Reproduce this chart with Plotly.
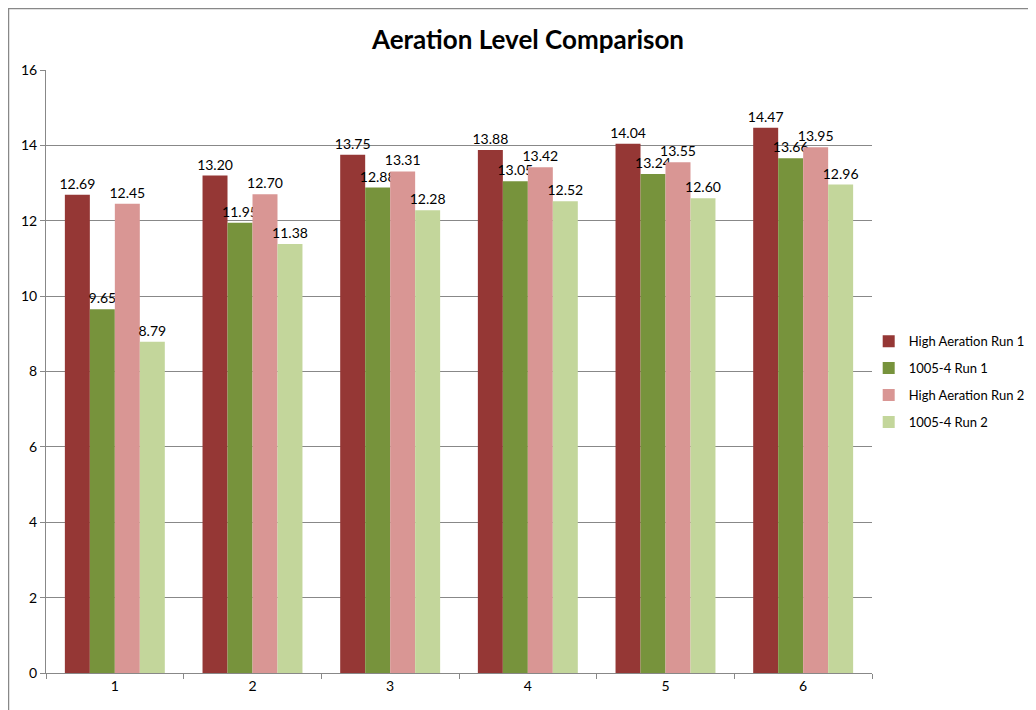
import plotly.graph_objects as go

categories = ["1", "2", "3", "4", "5", "6"]
high_run1 = [12.69, 13.20, 13.75, 13.88, 14.04, 14.47]
s1005_run1 = [9.65, 11.95, 12.88, 13.05, 13.24, 13.66]
high_run2 = [12.45, 12.70, 13.31, 13.42, 13.55, 13.95]
s1005_run2 = [8.79, 11.38, 12.28, 12.52, 12.60, 12.96]

series = [
    ("High Aeration Run 1", high_run1, "#953735"),
    ("1005-4 Run 1", s1005_run1, "#77933C"),
    ("High Aeration Run 2", high_run2, "#D99694"),
    ("1005-4 Run 2", s1005_run2, "#C3D69B"),
]

FONT = "Lato, 'Liberation Sans', sans-serif"

fig = go.Figure()
for i, (name, vals, color) in enumerate(series):
    fig.add_trace(go.Bar(
        x=categories, y=vals, name=name, legendgroup=f"g{i}",
        marker=dict(color=color, line=dict(width=0)),
        text=[f"{v:.2f}" for v in vals],
        textposition="outside",
        textfont=dict(size=14, color="#000000", family=FONT),
        cliponaxis=False,
    ))

fig.update_layout(
    width=1028, height=702,
    barmode="group", bargap=0.274, bargroupgap=0,
    plot_bgcolor="white", paper_bgcolor="white",
    margin=dict(l=38, r=164, t=62, b=37, autoexpand=False),
    font=dict(family=FONT, size=14, color="#000000"),
    title=dict(text="<b>Aeration Level Comparison</b>", x=520 / 1028, xanchor="center",
               xref="container", y=1 - 32 / 702, yanchor="middle",
               font=dict(size=26, family=FONT, color="#000000")),
    legend=dict(x=0.996, xanchor="left", y=0.483, yanchor="middle",
                font=dict(size=13, family=FONT), tracegroupgap=7,
                traceorder="grouped",
                itemwidth=30, bgcolor="rgba(0,0,0,0)"),
    yaxis=dict(range=[0, 16], dtick=2, showgrid=True, gridcolor="#888888",
               gridwidth=1, showline=True, linecolor="#888888", ticks="outside",
               ticklen=5, tickcolor="#888888", zeroline=False, automargin=False,
               tickfont=dict(size=14)),
    xaxis=dict(showline=True, linecolor="#888888", ticks="outside",
               tickson="boundaries", ticklen=5, tickcolor="#888888",
               automargin=False, tickfont=dict(size=14)),
    uniformtext=dict(mode="show", minsize=14),
    shapes=[dict(type="rect", xref="paper", yref="paper",
                 x0=-0.0454, x1=1.5, y0=-0.3, y1=1.102,
                 line=dict(color="#888888", width=1.5), layer="below")],
)

fig.write_html("out.html")
